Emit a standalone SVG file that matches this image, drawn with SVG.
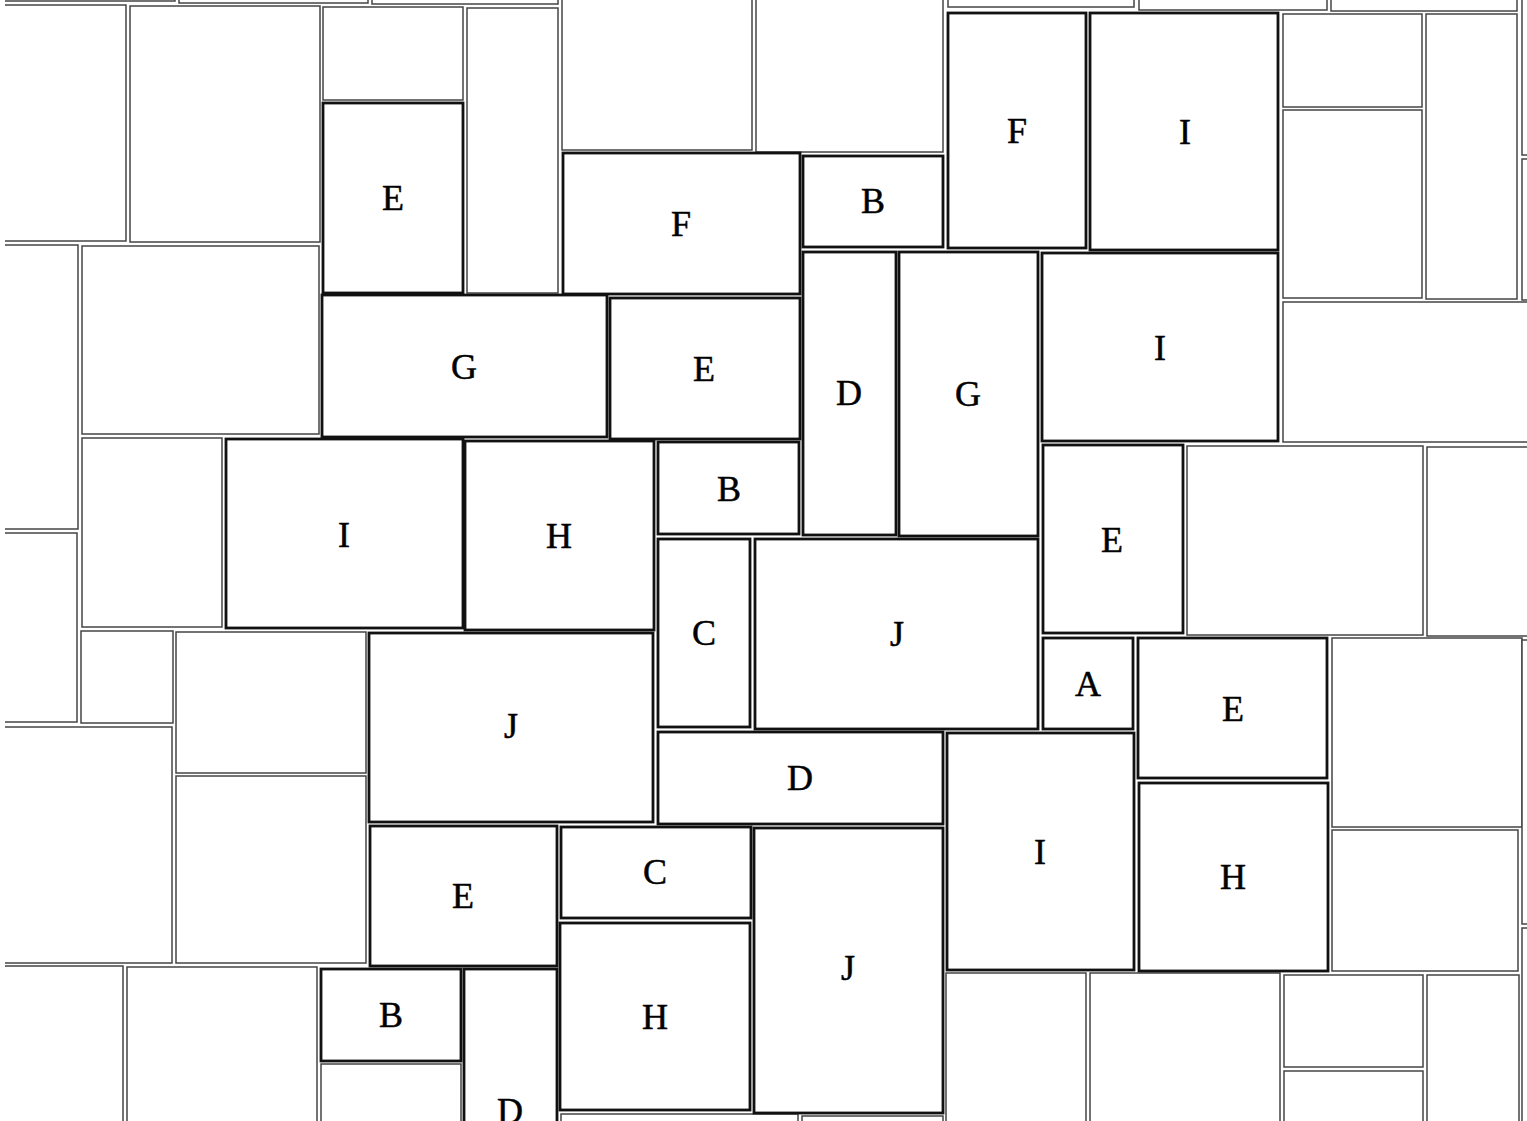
<svg xmlns="http://www.w3.org/2000/svg" width="1527" height="1121" viewBox="0 0 1527 1121">
<defs>
<style>
.t{fill:#fff;stroke:#444;stroke-width:1.5}
.s{fill:#fff;stroke:#111;stroke-width:2.8}
.l{font-family:"Liberation Serif","Times New Roman",serif;font-size:36px;text-anchor:middle;fill:#000;stroke:#000;stroke-width:0.5}
</style>
<clipPath id="cp"><rect x="5" y="-10" width="1600" height="1200"/></clipPath>
</defs>
<rect width="1527" height="1121" fill="#fff"/>
<g id="plain-tiles" clip-path="url(#cp)">
<rect class="t" x="-10" y="-50" width="185" height="51"/>
<rect class="t" x="179" y="-50" width="189" height="53"/>
<rect class="t" x="372" y="-50" width="186" height="54"/>
<rect class="t" x="562" y="-50" width="190" height="200"/>
<rect class="t" x="756" y="-50" width="187" height="202"/>
<rect class="t" x="948" y="-50" width="186" height="57"/>
<rect class="t" x="1139" y="-50" width="188" height="60"/>
<rect class="t" x="1331" y="-50" width="186" height="61"/>
<rect class="t" x="1522" y="-50" width="80" height="205"/>
<rect class="t" x="1522" y="159" width="80" height="141"/>
<rect class="t" x="-10" y="5" width="136" height="236"/>
<rect class="t" x="130" y="6" width="190" height="236"/>
<rect class="t" x="323" y="7" width="140" height="93"/>
<rect class="t" x="467" y="8" width="91" height="285"/>
<rect class="t" x="1283" y="14" width="139" height="93"/>
<rect class="t" x="1283" y="110" width="139" height="188"/>
<rect class="t" x="1426" y="14" width="91" height="285"/>
<rect class="t" x="1283" y="302" width="320" height="140"/>
<rect class="t" x="82" y="246" width="237" height="188"/>
<rect class="t" x="-10" y="245" width="88" height="284"/>
<rect class="t" x="-10" y="533" width="87" height="189"/>
<rect class="t" x="82" y="438" width="140" height="189"/>
<rect class="t" x="81" y="631" width="92" height="92"/>
<rect class="t" x="176" y="632" width="190" height="141"/>
<rect class="t" x="176" y="776" width="190" height="187"/>
<rect class="t" x="-10" y="727" width="182" height="236"/>
<rect class="t" x="-10" y="966" width="133" height="200"/>
<rect class="t" x="127" y="967" width="190" height="200"/>
<rect class="t" x="321" y="1064" width="140" height="100"/>
<rect class="t" x="1187" y="446" width="236" height="189"/>
<rect class="t" x="1427" y="447" width="180" height="189"/>
<rect class="t" x="1332" y="638" width="190" height="189"/>
<rect class="t" x="1332" y="830" width="186" height="141"/>
<rect class="t" x="1522" y="640" width="80" height="284"/>
<rect class="t" x="1522" y="928" width="80" height="240"/>
<rect class="t" x="1284" y="975" width="139" height="92"/>
<rect class="t" x="1284" y="1071" width="139" height="100"/>
<rect class="t" x="1427" y="975" width="92" height="200"/>
<rect class="t" x="1090" y="973" width="190" height="200"/>
<rect class="t" x="946" y="973" width="140" height="200"/>
<rect class="t" x="802" y="1116" width="141" height="60"/>
<rect class="t" x="561" y="1114" width="237" height="60"/>
</g>
<g id="slab-E1"><rect class="s" x="323" y="103" width="140" height="190"/><text class="l" x="393" y="210">E</text></g>
<g id="slab-F1"><rect class="s" x="563" y="153" width="237" height="141"/><text class="l" x="681" y="236">F</text></g>
<g id="slab-B1"><rect class="s" x="803" y="156" width="140" height="91"/><text class="l" x="873" y="213">B</text></g>
<g id="slab-F2"><rect class="s" x="948" y="13" width="138" height="235"/><text class="l" x="1017" y="143">F</text></g>
<g id="slab-I1"><rect class="s" x="1090" y="13" width="188" height="237"/><text class="l" x="1185" y="144">I</text></g>
<g id="slab-G1"><rect class="s" x="322" y="295" width="285" height="142"/><text class="l" x="464" y="379">G</text></g>
<g id="slab-E2"><rect class="s" x="610" y="298" width="190" height="141"/><text class="l" x="704" y="381">E</text></g>
<g id="slab-D1"><rect class="s" x="803" y="252" width="93" height="283"/><text class="l" x="849" y="405">D</text></g>
<g id="slab-G2"><rect class="s" x="899" y="252" width="139" height="284"/><text class="l" x="968" y="406">G</text></g>
<g id="slab-I2"><rect class="s" x="1042" y="253" width="236" height="188"/><text class="l" x="1160" y="360">I</text></g>
<g id="slab-I3"><rect class="s" x="226" y="439" width="237" height="189"/><text class="l" x="344" y="547">I</text></g>
<g id="slab-H1"><rect class="s" x="465" y="441" width="189" height="189"/><text class="l" x="559" y="548">H</text></g>
<g id="slab-B2"><rect class="s" x="658" y="442" width="141" height="92"/><text class="l" x="729" y="501">B</text></g>
<g id="slab-C1"><rect class="s" x="658" y="539" width="92" height="188"/><text class="l" x="704" y="645">C</text></g>
<g id="slab-J1"><rect class="s" x="755" y="539" width="283" height="190"/><text class="l" x="897" y="646">J</text></g>
<g id="slab-E3"><rect class="s" x="1043" y="445" width="140" height="188"/><text class="l" x="1112" y="552">E</text></g>
<g id="slab-J2"><rect class="s" x="369" y="633" width="284" height="189"/><text class="l" x="511" y="738">J</text></g>
<g id="slab-A1"><rect class="s" x="1043" y="638" width="90" height="91"/><text class="l" x="1088" y="696">A</text></g>
<g id="slab-E4"><rect class="s" x="1138" y="638" width="189" height="140"/><text class="l" x="1233" y="721">E</text></g>
<g id="slab-D2"><rect class="s" x="658" y="732" width="285" height="92"/><text class="l" x="800" y="790">D</text></g>
<g id="slab-I4"><rect class="s" x="947" y="733" width="187" height="237"/><text class="l" x="1040" y="864">I</text></g>
<g id="slab-H2"><rect class="s" x="1139" y="783" width="189" height="188"/><text class="l" x="1233" y="889">H</text></g>
<g id="slab-E5"><rect class="s" x="370" y="826" width="187" height="140"/><text class="l" x="463" y="908">E</text></g>
<g id="slab-C2"><rect class="s" x="561" y="827" width="190" height="91"/><text class="l" x="655" y="884">C</text></g>
<g id="slab-J3"><rect class="s" x="754" y="828" width="189" height="285"/><text class="l" x="848" y="980">J</text></g>
<g id="slab-H3"><rect class="s" x="560" y="923" width="190" height="187"/><text class="l" x="655" y="1029">H</text></g>
<g id="slab-B3"><rect class="s" x="321" y="969" width="140" height="92"/><text class="l" x="391" y="1027">B</text></g>
<g id="slab-D3"><rect class="s" x="464" y="969" width="93" height="180"/><text class="l" x="510" y="1123">D</text></g>
</svg>
